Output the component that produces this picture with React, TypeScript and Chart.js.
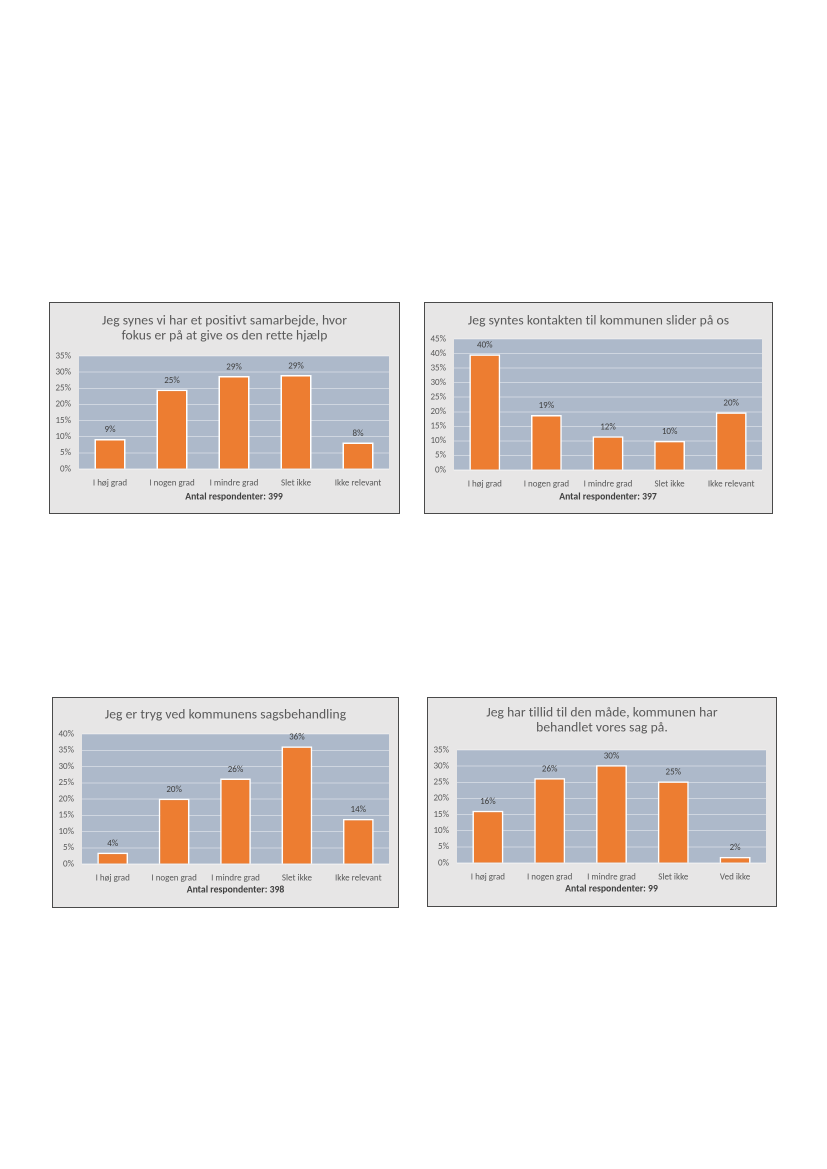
import React, { useEffect, useRef } from "react";
import { Chart, registerables } from "chart.js";

Chart.register(...registerables);

const CATEGORIES_A = ["I høj grad", "I nogen grad", "I mindre grad", "Slet ikke", "Ikke relevant"];
const CATEGORIES_B = ["I høj grad", "I nogen grad", "I mindre grad", "Slet ikke", "Ved ikke"];

const VALUES_1 = [9.3, 24.6, 28.8, 29.1, 8.2];
const VALUES_2 = [39.7, 18.9, 11.6, 10.0, 19.8];
const VALUES_3 = [3.5, 20.1, 26.3, 36.2, 13.9];
const VALUES_4 = [16.2, 26.3, 30.3, 25.3, 1.9];

const TITLE_1 = ["Jeg synes vi har et positivt samarbejde, hvor", "fokus er på at give os den rette hjælp"];
const TITLE_2 = ["Jeg syntes kontakten til kommunen slider på os"];
const TITLE_3 = ["Jeg er tryg ved kommunens sagsbehandling"];
const TITLE_4 = ["Jeg har tillid til den måde, kommunen har", "behandlet vores sag på."];

const Y_MAX_1 = 35;
const Y_MAX_2 = 45;
const Y_MAX_3 = 40;
const Y_MAX_4 = 35;
const Y_STEP = 5;

const RESPONDENTS_1 = 399;
const RESPONDENTS_2 = 397;
const RESPONDENTS_3 = 398;
const RESPONDENTS_4 = 99;

const FONT = "Carlito, Calibri, Lato, sans-serif";
const BAR_COLOR = "#ED7D31";
const PLOT_BG = "#ADB9CA";
const BOX_BG = "#E7E6E6";
const GRID = "rgba(255,255,255,0.42)";

type Props = {
  box: [number, number, number, number];
  plot: [number, number, number, number];
  title: string[];
  titleY: number[];
  labels: string[];
  values: number[];
  yMax: number;
  respondents: number;
  footerY: number;
};

function ChartBox(p: Props) {
  const ref = useRef<HTMLCanvasElement>(null);
  const [x0, y0, x1, y1] = p.box;
  const cw = x1 - x0 - 1;
  const ch = y1 - y0 - 1;
  useEffect(() => {
    const ox = x0 + 1;
    const oy = y0 + 1;
    const L = p.plot[0] - ox;
    const T = p.plot[1] - oy;
    const R = p.plot[2] - ox;
    const B = p.plot[3] - oy;
    const decor = {
      id: "decor",
      beforeDraw(chart: any) {
        const { ctx, chartArea } = chart;
        ctx.save();
        ctx.fillStyle = PLOT_BG;
        ctx.fillRect(chartArea.left, chartArea.top, chartArea.right - chartArea.left, chartArea.bottom - chartArea.top);
        ctx.restore();
      },
      afterDatasetsDraw(chart: any) {
        const { ctx } = chart;
        const meta = chart.getDatasetMeta(0);
        ctx.save();
        ctx.font = `9px ${FONT}`;
        ctx.fillStyle = "#404040";
        ctx.textAlign = "center";
        ctx.textBaseline = "middle";
        meta.data.forEach((el: any, i: number) => {
          ctx.fillText(Math.round(p.values[i]) + "%", el.x, el.y - 9);
        });
        ctx.restore();
      },
      afterDraw(chart: any) {
        const { ctx, chartArea } = chart;
        ctx.save();
        ctx.textAlign = "center";
        ctx.textBaseline = "middle";
        ctx.fillStyle = "#595959";
        ctx.font = `13.6px ${FONT}`;
        try {
          (ctx as any).letterSpacing = "0.05px";
        } catch (e) {}
        p.title.forEach((t, i) => ctx.fillText(t, chart.width / 2, p.titleY[i]));
        try {
          (ctx as any).letterSpacing = "0px";
        } catch (e) {}
        ctx.fillStyle = "#404040";
        ctx.font = `bold 9.7px ${FONT}`;
        ctx.fillText("Antal respondenter: " + p.respondents, (chartArea.left + chartArea.right) / 2, p.footerY);
        ctx.restore();
      },
    };
    const chart = new Chart(ref.current!, {
      type: "bar",
      data: {
        labels: p.labels,
        datasets: [
          {
            data: p.values,
            backgroundColor: BAR_COLOR,
            borderColor: "#FFFFFF",
            borderWidth: 1.5,
            categoryPercentage: 0.5,
            barPercentage: 1,
          },
        ],
      },
      options: {
        animation: false,
        responsive: false,
        devicePixelRatio: 2,
        layout: { padding: { left: 0, top: T, right: cw - R, bottom: 0 } },
        plugins: { legend: { display: false }, title: { display: false }, tooltip: { enabled: false } },
        scales: {
          x: {
            afterFit(s: any) {
              s.height = ch - B;
            },
            grid: { display: false, drawTicks: false },
            border: { display: true, color: GRID },
            ticks: { color: "#595959", font: { family: FONT, size: 9 }, padding: 9, maxRotation: 0 },
          },
          y: {
            min: 0,
            max: p.yMax,
            afterFit(s: any) {
              s.width = L;
            },
            grid: { color: GRID, drawTicks: false },
            border: { display: false },
            ticks: {
              stepSize: Y_STEP,
              color: "#595959",
              font: { family: FONT, size: 9 },
              padding: 8,
              callback: (v: any) => v + "%",
            },
          },
        },
      },
      plugins: [decor],
    });
    return () => chart.destroy();
  }, []);
  return (
    <div
      style={{
        position: "absolute",
        left: x0,
        top: y0,
        width: x1 - x0 + 1,
        height: y1 - y0 + 1,
        boxSizing: "border-box",
        border: "1px solid #4a4a4a",
        background: BOX_BG,
      }}
    >
      <canvas ref={ref} width={cw} height={ch} style={{ display: "block", width: cw, height: ch }} />
    </div>
  );
}

export default function App() {
  return (
    <div style={{ position: "absolute", left: 0, top: 0, width: 827, height: 1169, background: "#fff" }}>
      <ChartBox
        box={[49, 302, 399, 513]}
        plot={[79, 356, 389, 469]}
        title={TITLE_1}
        titleY={[18, 33]}
        labels={CATEGORIES_A}
        values={VALUES_1}
        yMax={Y_MAX_1}
        respondents={RESPONDENTS_1}
        footerY={194}
      />
      <ChartBox
        box={[424, 302, 772, 513]}
        plot={[454, 339, 762, 470]}
        title={TITLE_2}
        titleY={[18]}
        labels={CATEGORIES_A}
        values={VALUES_2}
        yMax={Y_MAX_2}
        respondents={RESPONDENTS_2}
        footerY={194}
      />
      <ChartBox
        box={[52, 697, 398, 907]}
        plot={[82, 734, 389, 864]}
        title={TITLE_3}
        titleY={[17]}
        labels={CATEGORIES_A}
        values={VALUES_3}
        yMax={Y_MAX_3}
        respondents={RESPONDENTS_3}
        footerY={192}
      />
      <ChartBox
        box={[427, 697, 776, 906]}
        plot={[457, 750, 766, 863]}
        title={TITLE_4}
        titleY={[15, 30]}
        labels={CATEGORIES_B}
        values={VALUES_4}
        yMax={Y_MAX_4}
        respondents={RESPONDENTS_4}
        footerY={191}
      />
    </div>
  );
}
